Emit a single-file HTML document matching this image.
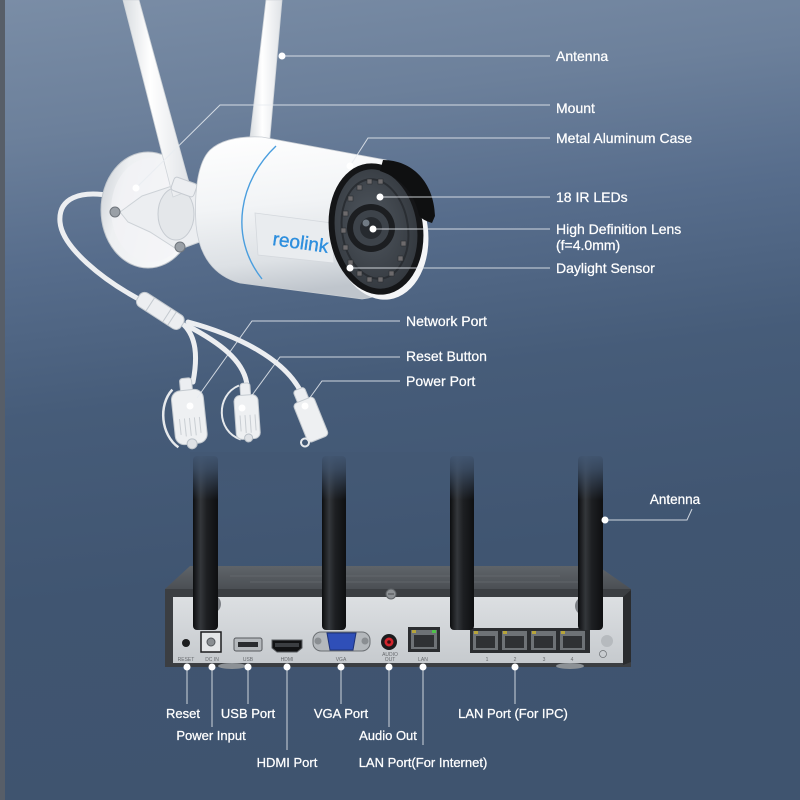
<!DOCTYPE html>
<html><head><meta charset="utf-8">
<style>
html,body{margin:0;padding:0;width:800px;height:800px;overflow:hidden;background:#4a5f7c}
svg{display:block}
text{font-family:"Liberation Sans",Arial,sans-serif;}
</style></head><body>
<svg width="800" height="800" viewBox="0 0 800 800" xmlns="http://www.w3.org/2000/svg">
<defs>
<linearGradient id="bg" x1="0" y1="0" x2="0.12" y2="1">
 <stop offset="0" stop-color="#7a8da6"/>
 <stop offset="0.17" stop-color="#6c809b"/>
 <stop offset="0.33" stop-color="#576d8c"/>
 <stop offset="0.52" stop-color="#465c79"/>
 <stop offset="0.75" stop-color="#405571"/>
 <stop offset="1" stop-color="#3f546f"/>
</linearGradient>
<linearGradient id="body" x1="0" y1="0" x2="0.15" y2="1">
 <stop offset="0" stop-color="#ffffff"/>
 <stop offset="0.45" stop-color="#f2f4f6"/>
 <stop offset="0.8" stop-color="#dde1e5"/>
 <stop offset="1" stop-color="#bfc5cc"/>
</linearGradient>
<linearGradient id="disc" x1="0" y1="0" x2="1" y2="0.3">
 <stop offset="0" stop-color="#c9ced4"/>
 <stop offset="0.3" stop-color="#eef0f2"/>
 <stop offset="1" stop-color="#f8f9fa"/>
</linearGradient>
<linearGradient id="ant" x1="0" y1="0" x2="1" y2="0">
 <stop offset="0" stop-color="#d8dce0"/>
 <stop offset="0.4" stop-color="#ffffff"/>
 <stop offset="1" stop-color="#dfe2e6"/>
</linearGradient>
<linearGradient id="bant" x1="0" y1="0" x2="1" y2="0">
 <stop offset="0" stop-color="#0c0d0f"/>
 <stop offset="0.3" stop-color="#34373b"/>
 <stop offset="0.55" stop-color="#1d1f22"/>
 <stop offset="1" stop-color="#0e0f11"/>
</linearGradient>
<linearGradient id="bfade" x1="0" y1="0" x2="0" y2="1">
 <stop offset="0" stop-color="#435874" stop-opacity="1"/>
 <stop offset="0.35" stop-color="#435874" stop-opacity="0.75"/>
 <stop offset="1" stop-color="#435874" stop-opacity="0"/>
</linearGradient>
<linearGradient id="face" x1="0" y1="0" x2="0" y2="1">
 <stop offset="0" stop-color="#dcdfe2"/>
 <stop offset="1" stop-color="#c6cace"/>
</linearGradient>
<linearGradient id="top" x1="0" y1="0" x2="0" y2="1">
 <stop offset="0" stop-color="#5f6469"/>
 <stop offset="1" stop-color="#4b4f54"/>
</linearGradient>
<radialGradient id="glass" cx="0.45" cy="0.45" r="0.6">
 <stop offset="0" stop-color="#50575f"/>
 <stop offset="1" stop-color="#33383e"/>
</radialGradient>
</defs>

<rect x="0" y="0" width="800" height="800" fill="url(#bg)"/>
<rect x="0" y="0" width="5" height="800" fill="#575e68"/>

<!-- ========== CAMERA ========== -->
<g fill="none" stroke="#eceef1" stroke-linecap="round">
 <path d="M112,196 C80,190 58,198 60,222 C62,246 100,280 150,305" stroke-width="5"/>
 <path d="M184,325 C196,337 198,356 193,382" stroke-width="5"/>
 <path d="M188,326 C218,342 244,360 247,385" stroke-width="5"/>
 <path d="M188,322 C240,336 285,360 301,392" stroke-width="5"/>
</g>
<g transform="translate(162,312) rotate(33)">
 <rect x="-28" y="-8" width="52" height="16" rx="6" fill="#eceef1" stroke="#c3c9cf" stroke-width="1"/>
 <line x1="6" y1="-8" x2="6" y2="8" stroke="#c3c9cf"/>
 <line x1="12" y1="-8" x2="12" y2="8" stroke="#c3c9cf"/>
 <line x1="-14" y1="-8" x2="-14" y2="8" stroke="#c3c9cf"/>
</g>
<g transform="translate(189,414) rotate(-6)">
 <path d="M-14,-26 C-30,-12 -30,18 -14,32" fill="none" stroke="#e6e9ec" stroke-width="2.5"/>
 <rect x="-6" y="-36" width="12" height="14" rx="3" fill="#eceef1" stroke="#c3c9cf"/>
 <rect x="-16" y="-24" width="32" height="54" rx="9" fill="#eef0f2" stroke="#c3c9cf"/>
 <g stroke="#c9ced3" stroke-width="1">
  <line x1="-10" y1="4" x2="-10" y2="20"/><line x1="-5" y1="4" x2="-5" y2="22"/><line x1="0" y1="4" x2="0" y2="22"/><line x1="5" y1="4" x2="5" y2="22"/><line x1="10" y1="4" x2="10" y2="20"/>
 </g>
 <circle cx="0" cy="30" r="5" fill="#dfe2e6" stroke="#b9c0c7"/>
</g>
<g transform="translate(247,415) rotate(-4)">
 <path d="M-6,-30 C-30,-22 -32,14 -8,24" fill="none" stroke="#e6e9ec" stroke-width="2"/>
 <rect x="-5" y="-32" width="10" height="14" rx="3" fill="#eceef1" stroke="#c3c9cf"/>
 <rect x="-12" y="-20" width="24" height="44" rx="6" fill="#eef0f2" stroke="#c3c9cf"/>
 <g stroke="#c9ced3"><line x1="-7" y1="0" x2="-7" y2="16"/><line x1="-2" y1="0" x2="-2" y2="18"/><line x1="3" y1="0" x2="3" y2="18"/><line x1="8" y1="0" x2="8" y2="16"/></g>
 <circle cx="0" cy="23" r="4" fill="#dfe2e6" stroke="#b9c0c7"/>
</g>
<g transform="translate(309,415) rotate(-22)">
 <rect x="-6" y="-28" width="12" height="14" rx="3" fill="#eceef1" stroke="#c3c9cf"/>
 <rect x="-11" y="-16" width="22" height="42" rx="4" fill="#eef0f2" stroke="#c3c9cf"/>
 <circle cx="-14" cy="24" r="4" fill="none" stroke="#e6e9ec" stroke-width="2"/>
</g>

<ellipse cx="148" cy="210" rx="47" ry="58" fill="url(#disc)" stroke="#c2c8ce" stroke-width="1"/>
<ellipse cx="151" cy="210" rx="40" ry="52" fill="#f3f4f6" opacity="0.6"/>
<path d="M120,212 L142,196 L172,186 L205,190 L205,240 L178,250 L150,232 L128,222 Z" fill="#eceef1" stroke="#cdd2d7"/>
<ellipse cx="176" cy="214" rx="18" ry="26" fill="#e4e7ea" stroke="#c6cbd1"/>
<circle cx="115" cy="212" r="5" fill="#9aa0a7" stroke="#70767d"/>
<circle cx="180" cy="247" r="5" fill="#9aa0a7" stroke="#70767d"/>

<polygon points="266,0 282,0 269,148 249,146" fill="url(#ant)" stroke="#cfd4d9" stroke-width="0.8"/>
<polygon points="123,0 139,0 191,190 173,197" fill="url(#ant)" stroke="#cfd4d9" stroke-width="0.8"/>
<rect x="172" y="180" width="24" height="14" rx="3" fill="#eceef1" stroke="#c6cbd1" transform="rotate(20 184 187)"/>

<path d="M210,150 C222,139 242,136 262,137 L386,160 C428,176 428,292 362,299 L240,283 C214,276 199,256 196,225 C194,190 198,162 210,150 Z" fill="url(#body)" stroke="#c8cdd3" stroke-width="0.8"/>
<path d="M276,146 C240,180 228,236 262,279" fill="none" stroke="#4a9ede" stroke-width="1.4"/>
<path d="M255,213 L332,223 L334,263 L258,255 Z" fill="#e9ecef" stroke="#d4d8dd" stroke-width="0.8"/>
<text x="272" y="245" font-size="19" fill="#2e8fde" transform="rotate(8 272 245)" stroke="#2e8fde" stroke-width="0.4">reolink</text>

<!-- front -->
<ellipse cx="380" cy="232" rx="48" ry="68" fill="#f4f5f7" transform="rotate(-8 380 232)"/>
<ellipse cx="376" cy="229" rx="47" ry="66" fill="#141517" transform="rotate(-8 376 229)"/>
<ellipse cx="376" cy="229" rx="41" ry="60" fill="url(#glass)" transform="rotate(-8 376 229)"/>
<ellipse cx="375" cy="229" rx="33" ry="50" fill="none" stroke="#2a2e33" stroke-width="2" transform="rotate(-8 375 229)"/>
<g fill="#6d6a6c" stroke="#2a2d31" stroke-width="0.6">
 <rect x="343" y="211" width="5" height="5"/><rect x="341" y="228" width="5" height="5"/><rect x="343" y="245" width="5" height="5"/>
 <rect x="348" y="260" width="5" height="5"/><rect x="357" y="271" width="5" height="5"/><rect x="348" y="196" width="5" height="5"/>
 <rect x="357" y="185" width="5" height="5"/><rect x="367" y="179" width="5" height="5"/><rect x="378" y="179" width="5" height="5"/>
 <rect x="367" y="277" width="5" height="5"/><rect x="378" y="277" width="5" height="5"/><rect x="389" y="271" width="5" height="5"/>
 <rect x="398" y="256" width="5" height="5"/><rect x="401" y="241" width="5" height="5"/>
</g>
<circle cx="371" cy="228" r="24" fill="#1c1e21"/>
<circle cx="371" cy="228" r="18" fill="#3d434a"/>
<circle cx="371" cy="228" r="11" fill="#262a2f"/>
<circle cx="366" cy="223" r="3.5" fill="#707a84"/>
<path d="M383,160 C412,160 434,182 435,216 L432,223 C426,221 421,219 419,215 C415,195 402,178 380,171 Z" fill="#0f1011"/>

<g stroke="#e8ecf1" stroke-width="1" fill="none" opacity="0.85">
 <line x1="282" y1="56" x2="550" y2="56"/>
 <polyline points="136,188 220,105 550,105"/>
 <polyline points="350,166 368,138 550,138"/>
 <line x1="380" y1="197" x2="550" y2="197"/>
 <line x1="373" y1="229" x2="550" y2="229"/>
 <line x1="350" y1="268" x2="550" y2="268"/>
 <polyline points="197,398 252,321 400,321"/>
 <polyline points="250,398 280,357 400,357"/>
 <polyline points="309,399 322,381 400,381"/>
</g>
<g fill="#ffffff">
 <circle cx="282" cy="56" r="3.5"/><circle cx="136" cy="188" r="3.5"/><circle cx="350" cy="166" r="3.5"/>
 <circle cx="380" cy="197" r="3.5"/><circle cx="373" cy="229" r="3.5"/><circle cx="350" cy="268" r="3.5"/>
 <circle cx="190" cy="406" r="3.5"/><circle cx="242" cy="408" r="3.5"/><circle cx="305" cy="406" r="3.5"/>
</g>
<g fill="#ffffff" stroke="#ffffff" stroke-width="0.25" font-size="14">
 <text x="556" y="61">Antenna</text>
 <text x="556" y="113">Mount</text>
 <text x="556" y="143">Metal Aluminum Case</text>
 <text x="556" y="202">18 IR LEDs</text>
 <text x="556" y="234">High Definition Lens</text>
 <text x="556" y="250">(f=4.0mm)</text>
 <text x="556" y="273">Daylight Sensor</text>
 <text x="406" y="326">Network Port</text>
 <text x="406" y="361">Reset Button</text>
 <text x="406" y="386">Power Port</text>
</g>

<!-- ========== NVR ========== -->
<polygon points="190,566 598,566 631,589 165,589" fill="url(#top)"/>
<g stroke="#6a6f74" stroke-width="1" opacity="0.6">
 <line x1="230" y1="576" x2="560" y2="576"/>
 <line x1="250" y1="582" x2="580" y2="582"/>
</g>
<rect x="165" y="589" width="466" height="78" fill="#3b3e42"/>
<rect x="173" y="597" width="450" height="66" fill="url(#face)"/>
<polygon points="623,597 631,590 631,662 623,665" fill="#2a2c2f"/>
<ellipse cx="210" cy="604" rx="11" ry="10" fill="#7b7f84"/>
<ellipse cx="586" cy="606" rx="11" ry="10" fill="#7b7f84"/>
<ellipse cx="232" cy="666" rx="14" ry="3" fill="#8c9196"/>
<ellipse cx="570" cy="666" rx="14" ry="3" fill="#8c9196"/>
<circle cx="391" cy="594" r="5" fill="#8d9195" stroke="#5e6266"/>
<line x1="388" y1="594" x2="394" y2="594" stroke="#4a4d51"/>

<circle cx="186" cy="643" r="4" fill="#1c1d1f"/>
<rect x="201" y="632" width="20" height="20" fill="#e4e6e8" stroke="#1c1d1f" stroke-width="1.5"/>
<circle cx="211" cy="642" r="4" fill="#8a8e92" stroke="#55595d"/>
<rect x="234" y="638" width="28" height="13" rx="2" fill="#b5b9bd" stroke="#56595d"/>
<rect x="238" y="642" width="20" height="5" fill="#2a2c2f"/>
<path d="M272,640 L302,640 L302,648 L297,652 L277,652 L272,648 Z" fill="#111214" stroke="#5b5e62"/>
<rect x="275" y="643" width="24" height="4" fill="#3b3e42"/>
<rect x="313" y="632" width="57" height="19" rx="8" fill="#b4b8bc" stroke="#6c7074"/>
<circle cx="318" cy="641" r="3.5" fill="#8a8e92"/>
<circle cx="365" cy="641" r="3.5" fill="#8a8e92"/>
<path d="M327,633 L356,633 L353,650 L330,650 Z" fill="#2f4fb8" stroke="#1d3278"/>
<circle cx="389" cy="642" r="8" fill="#1b1c1e"/>
<circle cx="389" cy="642" r="4.5" fill="#d3252d"/>
<circle cx="389" cy="642" r="1.8" fill="#3a0e10"/>
<rect x="408" y="627" width="32" height="25" fill="#2b2d30"/>
<rect x="411" y="630" width="26" height="19" fill="#6e7276"/>
<rect x="414" y="635" width="20" height="12" fill="#2f3134"/>
<rect x="412" y="630" width="4" height="3" fill="#b7a43a"/><rect x="432" y="630" width="4" height="3" fill="#4fc24a"/>
<rect x="470" y="628" width="120" height="25" fill="#2b2d30"/>
<g>
 <rect x="473" y="631" width="25" height="19" fill="#6e7276"/><rect x="476" y="636" width="19" height="12" fill="#2f3134"/><rect x="474" y="631" width="4" height="3" fill="#b7a43a"/>
 <rect x="502" y="631" width="25" height="19" fill="#6e7276"/><rect x="505" y="636" width="19" height="12" fill="#2f3134"/><rect x="503" y="631" width="4" height="3" fill="#b7a43a"/>
 <rect x="531" y="631" width="25" height="19" fill="#6e7276"/><rect x="534" y="636" width="19" height="12" fill="#2f3134"/><rect x="532" y="631" width="4" height="3" fill="#b7a43a"/>
 <rect x="560" y="631" width="25" height="19" fill="#6e7276"/><rect x="563" y="636" width="19" height="12" fill="#2f3134"/><rect x="561" y="631" width="4" height="3" fill="#b7a43a"/>
</g>
<circle cx="607" cy="641" r="6" fill="#b6babe"/>
<circle cx="603" cy="654" r="3.5" fill="none" stroke="#6a6e72" stroke-width="0.7"/>
<g fill="#66696d" font-size="5" text-anchor="middle">
 <text x="186" y="661">RESET</text><text x="212" y="661">DC IN</text><text x="248" y="661">USB</text>
 <text x="287" y="661">HDMI</text><text x="341" y="661">VGA</text>
 <text x="390" y="656">AUDIO</text><text x="390" y="661">OUT</text>
 <text x="423" y="661">LAN</text>
 <text x="487" y="661">1</text><text x="515" y="661">2</text><text x="544" y="661">3</text><text x="572" y="661">4</text>
</g>

<g>
 <rect x="193" y="456" width="25" height="174" rx="4" fill="url(#bant)"/>
 <rect x="322" y="456" width="24" height="174" rx="4" fill="url(#bant)"/>
 <rect x="450" y="456" width="24" height="174" rx="4" fill="url(#bant)"/>
 <rect x="578" y="456" width="25" height="174" rx="4" fill="url(#bant)"/>
 <rect x="190" y="452" width="420" height="48" fill="url(#bfade)"/>
</g>

<g stroke="#e8ecf1" stroke-width="1" fill="none" opacity="0.85">
 <polyline points="605,520 687,520 692,509"/>
 <line x1="187" y1="667" x2="187" y2="704"/>
 <line x1="212" y1="667" x2="212" y2="727"/>
 <line x1="248" y1="667" x2="248" y2="704"/>
 <line x1="287" y1="667" x2="287" y2="750"/>
 <line x1="341" y1="667" x2="341" y2="704"/>
 <line x1="389" y1="667" x2="389" y2="727"/>
 <line x1="423" y1="667" x2="423" y2="745"/>
 <line x1="515" y1="667" x2="515" y2="704"/>
</g>
<g fill="#ffffff">
 <circle cx="605" cy="520" r="3.5"/>
 <circle cx="187" cy="667" r="3.5"/><circle cx="212" cy="667" r="3.5"/><circle cx="248" cy="667" r="3.5"/>
 <circle cx="287" cy="667" r="3.5"/><circle cx="341" cy="667" r="3.5"/><circle cx="389" cy="667" r="3.5"/>
 <circle cx="423" cy="667" r="3.5"/><circle cx="515" cy="667" r="3.5"/>
</g>
<g fill="#ffffff" stroke="#ffffff" stroke-width="0.25" font-size="13" text-anchor="middle">
 <text x="675" y="504" font-size="13.5">Antenna</text>
 <text x="183" y="718">Reset</text>
 <text x="211" y="740">Power Input</text>
 <text x="248" y="718">USB Port</text>
 <text x="287" y="767">HDMI Port</text>
 <text x="341" y="718">VGA Port</text>
 <text x="388" y="740">Audio Out</text>
 <text x="423" y="767">LAN Port(For Internet)</text>
 <text x="513" y="718">LAN Port (For IPC)</text>
</g>
</svg>
</body></html>
